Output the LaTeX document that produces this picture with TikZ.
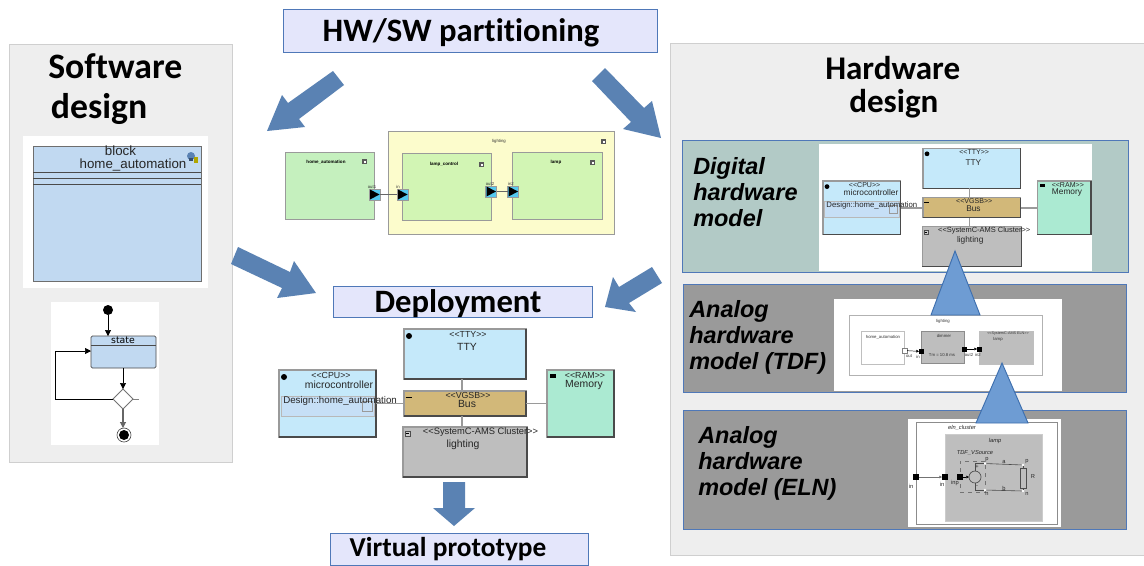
\documentclass[tikz,border=0pt]{standalone}
\usepackage{fontspec}
\setmainfont{Liberation Sans}
\newfontfamily\titlefont[Ligatures=NoCommon]{Carlito}
\newfontfamily\statefont{DejaVu Sans}
\usetikzlibrary{arrows.meta,shapes.geometric}
\definecolor{panelgray}{HTML}{EEEEEE}
\definecolor{panelline}{HTML}{CFCFCF}
\definecolor{titlefill}{HTML}{E4E6FB}
\definecolor{titleline}{HTML}{4F78B8}
\definecolor{bigarrow}{HTML}{5A82B3}
\definecolor{trifill}{HTML}{6E9CD3}
\definecolor{triline}{HTML}{3E6FAE}
\definecolor{cpublue}{HTML}{C5E9FA}
\definecolor{innerblue}{HTML}{C6DFF6}
\definecolor{busgold}{HTML}{D2B879}
\definecolor{ramgreen}{HTML}{ABEAD2}
\definecolor{clustergray}{HTML}{BEBEBE}
\definecolor{blockblue}{HTML}{C1D9F1}
\definecolor{compgreen}{HTML}{C5F0BE}
\definecolor{lampgreen}{HTML}{D2F5B4}
\definecolor{lightyellow}{HTML}{FCFCCC}
\definecolor{portcyan}{HTML}{54C8EE}
\definecolor{digfill}{HTML}{B2CAC6}
\definecolor{anafill}{HTML}{9A9A9A}
\definecolor{darkedge}{HTML}{4A4A4A}
\definecolor{midedge}{HTML}{9A9A9A}
\tikzset{
  panel/.style={draw=panelline,fill=panelgray,line width=0.75pt},
  titlebox/.style={draw=titleline,fill=titlefill,line width=0.75pt},
  modelpanel/.style={draw=titleline,line width=0.75pt},
  whitebox/.style={fill=white},
  unit/.style={draw=midedge,line width=0.9pt},
  cbox/.style={draw=midedge,line width=0.6pt},
  wire/.style={draw=midedge,line width=1.1pt},
  bigtitle/.style={font=\titlefont\bfseries\fontsize{24.5}{29}\selectfont,align=left,inner sep=0},
  midtitle/.style={font=\titlefont\bfseries\fontsize{20.5}{24}\selectfont,inner sep=0},
  modeltitle/.style={font=\bfseries\itshape\fontsize{17.6}{19.5}\selectfont,align=left,anchor=west,inner sep=0},
  lab/.style={font=\fontsize{7.8}{9}\selectfont,inner sep=0,text=black!85},
  smalllab/.style={font=\fontsize{6.6}{8}\selectfont,inner sep=0,text=black!85},
  tiny/.style={font=\fontsize{3.2}{3.6}\selectfont,inner sep=0,text=black!80},
  tinyb/.style={font=\bfseries\fontsize{3.4}{3.8}\selectfont,inner sep=0},
  elnlab/.style={font=\itshape\fontsize{4.3}{5}\selectfont,inner sep=0,text=black!85},
  elnport/.style={font=\fontsize{4.3}{5}\selectfont,inner sep=0,text=black!85},
  bigblock/.style={fill=bigarrow,draw=none},
  triangleup/.style={fill=trifill,draw=triline,line width=0.7pt},
  flow/.style={draw=black,line width=0.5pt,-{Triangle[length=4.5pt,width=4.5pt]}},
  flowg/.style={draw=black!60,line width=0.8pt,-{Triangle[length=4.5pt,width=4.5pt]}},
}
% name, x1, y1, x2, y2, style
\newcommand{\bx}[6]{%
  \pgfmathsetmacro\bxw{(#4-#2)*0.75}%
  \pgfmathsetmacro\bxh{(#5-#3)*0.75}%
  \node[#6,minimum width=\bxw pt,minimum height=\bxh pt,inner sep=0,outer sep=0,rectangle] (#1) at ({(#2+#4)/2},{(#3+#5)/2}) {};}
% name, x, y, style, text
\newcommand{\tx}[5]{\node[#4] (#1) at (#2,#3) {#5};}
\newcommand{\edge}[1]{\draw[draw=darkedge,line width=0.9pt] (#1.north east)--(#1.south east)--(#1.south west);}
% deployment model drawn in the coordinates of the central one
\newcommand{\deploymodel}[1]{%
  \bx{#1tty}{404}{329}{526}{379}{unit,fill=cpublue}\edge{#1tty}
  \bx{#1cpu}{279}{370}{376}{437}{unit,fill=cpublue}\edge{#1cpu}
  \bx{#1bus}{404}{391}{526}{416}{unit,fill=busgold}\edge{#1bus}
  \bx{#1ram}{547}{370}{614}{437}{unit,fill=ramgreen}\edge{#1ram}
  \bx{#1cl}{403}{427}{527}{477}{unit,fill=clustergray}\edge{#1cl}
  \bx{#1art}{281}{396}{374}{416}{draw=midedge!70,line width=0.6pt,fill=innerblue}
  \bx{#1sq}{362}{401}{372}{411}{draw=midedge,line width=0.6pt}
  \draw[wire] (#1tty.south -|#1bus.center) ++(-3,0) -- ++(0,12);
  \draw[wire] (#1bus.south) ++(-3,0) -- ++(0,11);
  \draw[wire] (#1cpu.east |- #1bus.center) -- (#1bus.west);
  \draw[wire] (#1bus.east) -- (#1ram.west |- #1bus.center);
  \tx{#1ttys}{468}{334}{smalllab}{<{}<TTY>{}>}
  \tx{#1ttyn}{467}{347}{lab}{TTY}
  \tx{#1cpus}{331}{375}{smalllab}{<{}<CPU>{}>}
  \tx{#1cpun}{339}{384.5}{lab}{microcontroller}
  \tx{#1artn}{283}{400.5}{lab,anchor=west,font=\fontsize{7.3}{9}\selectfont}{Design::home\_automation}
  \tx{#1buss}{468}{395.5}{smalllab}{<{}<VGSB>{}>}
  \tx{#1busn}{467}{404}{lab}{Bus}
  \tx{#1rams}{585}{375}{smalllab}{<{}<RAM>{}>}
  \tx{#1ramn}{584}{384.5}{lab}{Memory}
  \tx{#1cls}{480.5}{432.5}{smalllab,font=\fontsize{7}{8}\selectfont}{<{}<SystemC-AMS Cluster>{}>}
  \tx{#1cln}{463}{444.5}{lab}{lighting}
  \fill[black] (409,336) circle[radius=3];
  \fill[black] (284,377) circle[radius=3];
  \fill[black] (550,374) rectangle (556,378);
  \draw[black,line width=0.5pt] (405.5,397)--(412,397);
  \draw[black!70,fill=white!80!black,line width=0.4pt] (405,431) rectangle (410,436);
  \draw[black,line width=0.4pt] (406,433.5)--(409,433.5);
}
\begin{document}
\begin{tikzpicture}[x=0.75pt,y=-0.75pt]
\useasboundingbox (0,0) rectangle (1144,565);
\fill[white] (0,0) rectangle (1144,565);
% ---------- panels
\bx{swpanel}{9}{44}{232}{462}{panel}
\bx{hwpanel}{670}{43}{1146}{555}{panel}
\bx{hwsw}{283}{9}{657}{52}{titlebox}
\tx{hwswt}{461}{33}{bigtitle}{HW/SW partitioning}
\tx{swt}{48}{89}{bigtitle,anchor=west,font=\titlefont\bfseries\fontsize{26.8}{30}\selectfont}{Software\\\hspace*{2pt}design}
\tx{hwt}{825}{87}{bigtitle,anchor=west,font=\titlefont\bfseries\fontsize{24.8}{25}\selectfont}{Hardware\\\hspace*{18pt}design}
% ---------- block diagram
\bx{blockbg}{23}{136}{208}{288}{whitebox}
\bx{block}{33}{146}{201}{281}{draw=darkedge!80,line width=0.6pt,fill=blockblue}
\draw[darkedge,line width=0.6pt] (block.west |- 0,172) -- (block.east |- 0,172);
\draw[darkedge,line width=0.6pt] (block.west |- 0,178) -- (block.east |- 0,178);
\draw[darkedge,line width=0.6pt] (block.west |- 0,184) -- (block.east |- 0,184);
\tx{blockk}{120.5}{151}{font=\fontsize{10}{11}\selectfont,inner sep=0,text=black!85}{block}
\tx{blockn}{133}{164.5}{font=\fontsize{10}{11}\selectfont,inner sep=0,text=black!85}{home\_automation}
\fill[bigarrow] (191,156) circle[radius=4];
\fill[olive!70!yellow] (194,157) rectangle (198,163);
\fill[bigarrow!60!black] (189,158) rectangle (193,161);
% ---------- state diagram
\bx{statebg}{51}{302}{159}{445}{whitebox}
\node[circle,fill=black,minimum size=7.5pt,inner sep=0,outer sep=0] (start) at (108,310) {};
\node[rectangle,rounded corners=1pt,draw=darkedge,line width=0.6pt,fill=blockblue,minimum width=48.75pt,minimum height=24pt,inner sep=0,outer sep=0] (state) at (123.5,352) {};
\draw[darkedge,line width=0.6pt] (state.west |- 0,345) -- (state.east |- 0,345);
\node[font=\statefont\fontsize{7}{8}\selectfont,inner sep=0] (statet) at (123,340.5) {state};
\node[diamond,aspect=1,draw=black!55,line width=0.6pt,fill=white,minimum size=15pt,inner sep=0,outer sep=0] (choice) at (123,399) {};
\node[circle,draw=black!70,line width=0.5pt,fill=white,minimum size=10.5pt,inner sep=0,outer sep=0] (stopo) at (124,435) {};
\node[circle,fill=black,minimum size=7.5pt,inner sep=0,outer sep=0] (stopi) at (124,435) {};
\coordinate (stub) at (139,399);
\coordinate (loopa) at (55,399);
\coordinate (loopb) at (55,351);
\draw[flow] (start) -- (start |- state.north);
\draw[flow] (state.south -| choice) -- (choice.north);
\draw[flowg] (choice.south) -- (stopo.north -| choice);
\draw[draw=black!50,line width=0.5pt] (choice.east) -- (stub);
\draw[flow] (choice.west) -- (loopa) -- (loopb) -- (state.west |- loopb);
% ---------- component diagram
\bx{ha}{285}{152}{374}{219}{cbox,fill=compgreen}
\bx{lighting}{388}{131}{614}{234}{cbox,fill=lightyellow}
\bx{lc}{402}{153}{491}{220}{cbox,fill=lampgreen}
\bx{lamp}{512}{152}{602}{219}{cbox,fill=lampgreen}
\tx{hat}{326}{162}{tinyb}{home\_automation}
\tx{lightingt}{499}{141}{tiny}{lighting}
\tx{lct}{444}{164}{tinyb}{lamp\_control}
\tx{lampt}{556}{162}{tinyb}{lamp}
\foreach \ix/\iy in {364/161,603/141,481/164,592/162}{
  \fill[black!65] (\ix-2,\iy-2) rectangle (\ix+3,\iy+3);
  \fill[white] (\ix-0.5,\iy-0.5) rectangle (\ix+1.5,\iy+1.5);
}
\bx{pout}{369}{189}{380}{200}{draw=midedge,fill=portcyan,line width=0.5pt}
\bx{pin}{397}{189}{408}{200}{draw=midedge,fill=portcyan,line width=0.5pt}
\bx{pout2}{485.5}{186}{496.5}{197}{draw=midedge,fill=portcyan,line width=0.5pt}
\bx{pin2}{507.5}{186}{518.5}{197}{draw=midedge,fill=portcyan,line width=0.5pt}
\draw[black!60,line width=0.6pt] (pout) -- (pin);
\draw[black!60,line width=0.6pt] (pout2) -- (pin2);
\foreach \p in {pout,pin,pout2,pin2}{
  \fill[black] (\p.center) ++(-4.5,-5) -- ++(9.5,5) -- ++(-9.5,5) -- cycle;
}
\tx{poutl}{372}{187}{tiny}{out1}
\tx{pinl}{398}{187}{tiny}{in}
\tx{pout2l}{490}{184}{tiny}{out2}
\tx{pin2l}{511}{184}{tiny}{in2}
% ---------- deployment
\bx{depl}{333}{286}{592}{317}{titlebox}
\tx{deplt}{458}{304}{bigtitle}{Deployment}
\deploymodel{d}
\bx{vp}{330}{533}{588}{565}{titlebox}
\tx{vpt}{448}{549}{midtitle}{Virtual prototype}
% ---------- digital hardware
\bx{digp}{682}{140}{1128}{272}{modelpanel,fill=digfill}
\bx{digw}{819}{144}{1092}{271}{whitebox}
\begin{scope}[shift={(599.8,-115)},scale=0.8,transform shape]
\deploymodel{h}
\end{scope}
\tx{digt}{693}{192}{modeltitle}{Digital\\hardware\\model}
% ---------- analog TDF
\bx{tdfp}{683}{284}{1126}{392}{modelpanel,fill=anafill}
\bx{tdfw}{834}{299}{1062}{391}{whitebox}
\bx{tdff}{849}{315}{1042}{375}{draw=black!30,line width=0.6pt}
\bx{tha}{861}{331}{904}{364}{draw=black!25,line width=0.6pt}
\bx{tdim}{921}{331}{964}{363}{draw=black!45,fill=clustergray,line width=0.5pt}
\bx{tlamp}{979}{331}{1033}{364}{draw=black!25,fill=clustergray,line width=0.5pt}
\tx{tdfl}{943}{321}{tiny}{lighting}
\tx{thal}{883}{337}{tiny}{home\_automation}
\tx{tdiml}{944}{336}{tiny}{dimmer}
\tx{tdimm}{942}{355}{tiny}{Tm = 10.8 ms}
\tx{tlamps}{1008}{334}{tiny,font=\fontsize{2.8}{3.2}\selectfont}{<{}<SystemC-AMS ELN>{}>}
\tx{tlampn}{998}{339}{tiny}{lamp}
\bx{tp1}{902}{348}{907}{353}{draw=black!50,fill=white,line width=0.4pt}
\bx{tp2}{919}{349}{924}{354}{fill=black}
\bx{tp3}{962}{346.5}{967}{351.5}{fill=black}
\bx{tp4}{977}{346.5}{982}{351.5}{fill=black}
\draw[black,line width=0.35pt,-{Triangle[length=2pt,width=2pt]}] (tp1) -- (tp2);
\draw[black,line width=0.35pt,-{Triangle[length=2pt,width=2pt]}] (tp3) -- (tp4);
\tx{tp1l}{909}{356.5}{tiny}{out}
\tx{tp2l}{918}{356.5}{tiny}{in}
\tx{tp3l}{969}{355}{tiny}{out2}
\tx{tp4l}{978}{355}{tiny}{in2}
\tx{tdft}{689}{337}{modeltitle}{Analog\\hardware\\model (TDF)}
% ---------- analog ELN
\bx{elnp}{683}{410}{1126}{529}{modelpanel,fill=anafill}
\bx{elnw}{908}{419}{1061}{527}{whitebox}
\bx{elnf}{916}{422}{1057}{524}{draw=black!45,line width=0.6pt}
\bx{elnl}{945}{434}{1042}{521}{fill=clustergray,draw=black!20,line width=0.4pt}
\tx{elnft}{962}{428}{elnlab}{eln\_cluster}
\tx{elnlt}{995}{441}{elnlab}{lamp}
\tx{elnst}{975}{453}{elnlab}{TDF\_VSource}
\bx{vsrc}{960}{461}{985}{492}{draw=black!55,dashed,line width=0.5pt}
\bx{ep1}{913}{474}{919}{480}{fill=black}
\bx{ep2}{942}{474}{948}{480}{fill=black}
\bx{ep3}{957}{474}{963}{480}{fill=black}
\node[circle,draw=black!70,line width=0.5pt,minimum size=9pt,inner sep=0,outer sep=0] (esrc) at (975,477) {};
\bx{eres}{1020}{468}{1026}{488}{draw=black!70,line width=0.5pt}
\node[circle,fill=white,minimum size=2.2pt,inner sep=0,outer sep=0] (enp) at (985,463.5) {};
\node[circle,fill=white,minimum size=2.2pt,inner sep=0,outer sep=0] (enn) at (985,490) {};
\node[circle,fill=white,minimum size=2.2pt,inner sep=0,outer sep=0] (erp) at (1023,465) {};
\node[circle,fill=white,minimum size=2.2pt,inner sep=0,outer sep=0] (ern) at (1023,491) {};
\draw[black!55,line width=0.5pt,-{Triangle[length=2pt,width=2pt]}] (ep1) -- (ep2);
\draw[black,line width=0.4pt,-{Triangle[length=2pt,width=2pt]}] (ep3) -- (esrc);
\draw[black!70,line width=0.45pt] (enp) -- (esrc.north |- enp) -- (esrc.north);
\draw[black!70,line width=0.45pt] (enn) -- (esrc.south |- enn) -- (esrc.south);
\draw[black!70,line width=0.45pt] (enp) -- (erp);
\draw[black!70,line width=0.45pt] (enn) -- (ern);
\draw[black!70,line width=0.45pt] (erp) -- (eres.north);
\draw[black!70,line width=0.45pt] (ern) -- (eres.south);
\tx{ep1l}{911}{486}{elnport}{in}
\tx{ep2l}{942}{484.5}{elnport}{in}
\tx{ep3l}{955}{483.5}{elnport}{inp}
\tx{elp1}{987}{459.5}{elnport}{p}
\tx{eln1}{987}{494}{elnport}{n}
\tx{ela}{1004}{462}{elnport}{a}
\tx{elb}{1004}{488.5}{elnport}{b}
\tx{elp2}{1027}{462}{elnport}{p}
\tx{eln2}{1027}{494}{elnport}{n}
\tx{elr}{1033}{477}{elnport}{R}
\tx{elplus}{977}{466.5}{elnport}{+}
\tx{elminus}{977}{487}{elnport}{-}
\tx{elnt}{698}{463}{modeltitle}{Analog\\hardware\\model (ELN)}
% ---------- refinement triangles
\draw[triangleup] (955,251) -- (980,315) -- (931,315) -- cycle;
\draw[triangleup] (1002,363) -- (1028,423) -- (976,423) -- cycle;
% ---------- big arrows
\fill[bigblock] (333,71) -- (344,85) -- (299,119) -- (305,127) -- (267,131) -- (282,95) -- (288,103) -- cycle;
\fill[bigblock] (605,68) -- (592,81) -- (631,122) -- (623,129) -- (661,138) -- (652,101) -- (644,108) -- cycle;
\fill[bigblock] (238,247) -- (231,264) -- (282,288) -- (277,298) -- (316,293) -- (294,261) -- (290,272) -- cycle;
\fill[bigblock] (652,267) -- (662,283) -- (629,303) -- (636,312) -- (605,307) -- (613,277) -- (619,287) -- cycle;
\fill[bigblock] (443,482) -- (465,482) -- (465,508) -- (475,508) -- (454,526) -- (433,508) -- (443,508) -- cycle;
\end{tikzpicture}
\end{document}
